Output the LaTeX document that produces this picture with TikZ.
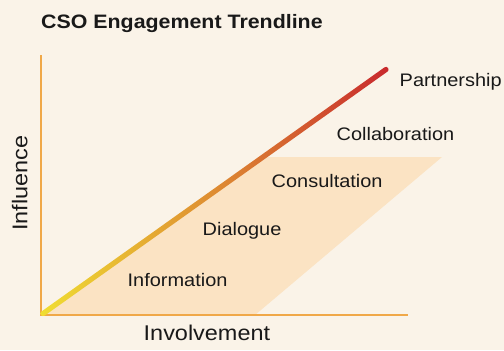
\documentclass[tikz,border=0pt]{standalone}
\usepackage{fontspec}
\setmainfont{Liberation Sans}[FakeStretch=1.1]
\definecolor{bg}{RGB}{250,243,232}
\definecolor{axis}{RGB}{240,168,72}
\definecolor{band}{RGB}{251,227,195}
\definecolor{lineA}{RGB}{240,222,50}
\definecolor{lineB}{RGB}{222,140,50}
\definecolor{lineC}{RGB}{200,40,45}
\definecolor{ink}{RGB}{25,25,25}
\begin{document}
\begin{tikzpicture}[x=1bp,y=-1bp,
  lbl/.style={text=ink,font=\fontsize{18.2}{20}\selectfont,inner sep=0pt,anchor=base west},
  axlbl/.style={text=ink,font=\fontsize{21.4}{23}\selectfont,inner sep=0pt,anchor=base west}]
\fill[bg] (0,0) rectangle (504,350);
\useasboundingbox (0,0) rectangle (504,350);
\coordinate (O) at (41,315);
\coordinate (Ytop) at (41,55);
\coordinate (Xend) at (408,315);
\coordinate (T) at (388,68);
% band
\fill[band] (O) -- (255,315) -- (442,157) -- (264,157) -- cycle;
% axes
\draw[axis,line width=2bp] (Ytop) -- (O) -- (Xend);
% trendline
\begin{scope}[shift={(O)},rotate=35.44]
\shade[left color=lineA,right color=lineC,middle color=lineB,rounded corners=2.5bp] (0,-2.6) rectangle (426,2.6);
\end{scope}
% labels
\node[anchor=base west,text=ink,font=\bfseries\fontsize{19.5}{22}\selectfont,inner sep=0pt] (title) at (41,28.3) {CSO Engagement Trendline};
\node[lbl] (p) at (399.5,86.7) {Partnership};
\node[lbl] (c1) at (336.5,140.7) {Collaboration};
\node[lbl] (c2) at (271.5,187) {Consultation};
\node[lbl] (d) at (202.5,235.3) {Dialogue};
\node[lbl] (i) at (127.5,286) {Information};
\node[axlbl] (x) at (143.5,340.7) {Involvement};
\node[axlbl,rotate=90] (y) at (27.3,231) {Influence};
\end{tikzpicture}
\end{document}
